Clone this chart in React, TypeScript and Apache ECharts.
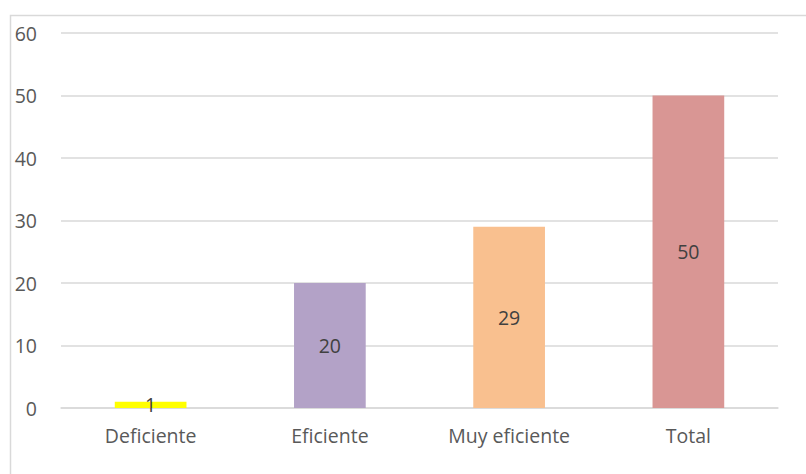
import React, { useEffect, useRef } from "react";
import * as echarts from "echarts";

const categories = ["Deficiente", "Eficiente", "Muy eficiente", "Total"];
const values = [1, 20, 29, 50];
const barColors = ["#FFFF00", "#B3A2C7", "#F9C08F", "#D99694"];
const yTicks = { min: 0, max: 60, interval: 10 };

export default function App() {
  const ref = useRef<HTMLDivElement>(null);
  useEffect(() => {
    if (!ref.current) return;
    const chart = echarts.init(ref.current, null, { renderer: "svg" });
    chart.setOption({
      animation: false,
      backgroundColor: "#ffffff",
      textStyle: { fontFamily: "Open Sans" },
      graphic: [
        {
          type: "rect",
          shape: { x: 10.5, y: 15.5, width: 810, height: 480 },
          style: { fill: "none", stroke: "#d9d9d9", lineWidth: 1.5 },
          silent: true,
        },
      ],
      grid: { left: 61, right: 28, top: 33, bottom: 66, containLabel: false },
      xAxis: {
        type: "category",
        data: categories,
        axisLine: { show: true, lineStyle: { color: "#d9d9d9", width: 1.5 } },
        axisTick: { show: false },
        axisLabel: { color: "#595959", fontSize: 19.5, margin: 17, fontFamily: "Open Sans" },
      },
      yAxis: {
        type: "value",
        min: yTicks.min,
        max: yTicks.max,
        interval: yTicks.interval,
        axisLine: { show: false },
        axisTick: { show: false },
        splitLine: { lineStyle: { color: "#d9d9d9", width: 1.5 } },
        axisLabel: { color: "#595959", fontSize: 19.5, margin: 24, fontFamily: "Open Sans" },
      },
      series: [
        {
          type: "bar",
          data: values.map((v, i) => ({ value: v, itemStyle: { color: barColors[i] } })),
          barWidth: "40%",
          label: {
            show: true,
            position: "inside",
            color: "#404040",
            fontSize: 19.5,
            fontFamily: "Open Sans",
          },
        },
      ],
    });
    return () => chart.dispose();
  }, []);
  return (
    <div
      ref={ref}
      style={{ position: "fixed", left: 0, top: 0, width: 806, height: 474 }}
    />
  );
}
